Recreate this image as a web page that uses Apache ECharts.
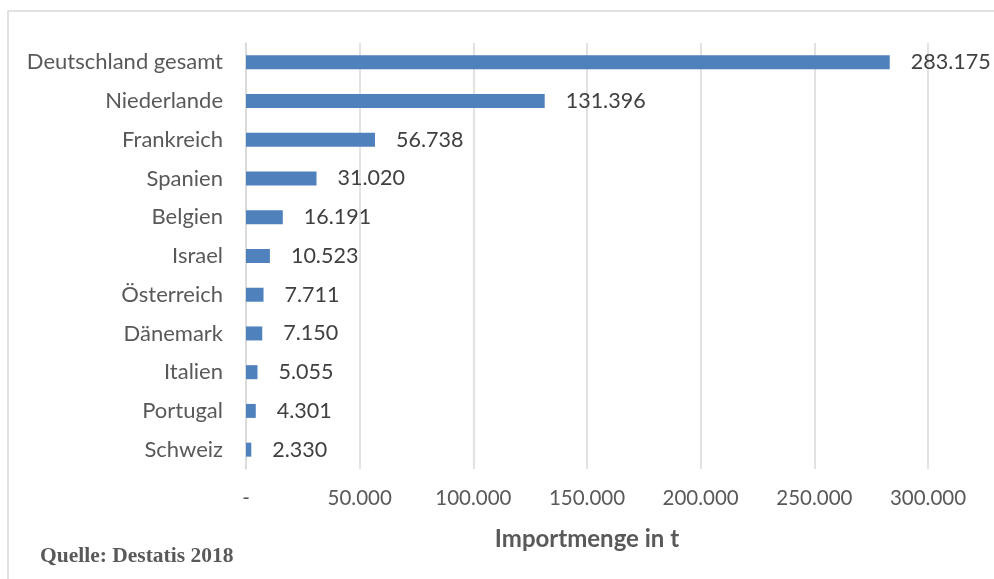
<!DOCTYPE html>
<html><head><meta charset="utf-8">
<script src="https://cdn.jsdelivr.net/npm/echarts@6/dist/echarts.min.js"></script>
<style>html,body{margin:0;padding:0;background:#fff}#c{width:994px;height:579px}</style>
</head><body><div id="c"></div>
<script>
const categories = ["Deutschland gesamt","Niederlande","Frankreich","Spanien","Belgien","Israel","Österreich","Dänemark","Italien","Portugal","Schweiz"];
const values = [283175,131396,56738,31020,16191,10523,7711,7150,5055,4301,2330];
const xTicks = [0,50000,100000,150000,200000,250000,300000];
const axisTitle = "Importmenge in t";
const sourceNote = "Quelle: Destatis 2018";

function fmt(v){ if(v===0) return "-"; return v.toString().replace(/\B(?=(\d{3})+(?!\d))/g,"."); }

const chart = echarts.init(document.getElementById('c'));
chart.setOption({
  animation:false,
  grid:{left:246,right:66,top:43,bottom:110,containLabel:false},
  xAxis:{type:'value',min:xTicks[0],max:xTicks[xTicks.length-1],interval:xTicks[1]-xTicks[0],
    axisLine:{show:false},axisTick:{show:false},
    splitLine:{lineStyle:{color:'#d9d9d9',width:1.5}},
    axisLabel:{formatter:fmt,color:'#595959',fontFamily:'Lato, Open Sans, sans-serif',fontSize:20.5,margin:19},
    name:axisTitle,nameLocation:'middle',nameGap:58,
    nameTextStyle:{color:'#595959',fontFamily:'Lato, Open Sans, sans-serif',fontSize:24,fontWeight:'bold'}
  },
  yAxis:{type:'category',data:categories,inverse:true,
    axisLine:{show:true,lineStyle:{color:'#d9d9d9',width:1.5}},axisTick:{show:false},
    axisLabel:{color:'#595959',fontFamily:'Lato, Open Sans, sans-serif',fontSize:22,margin:23}
  },
  series:[{type:'bar',data:values,barWidth:14,
    itemStyle:{color:'#4f81bd'},
    label:{show:true,position:'right',distance:21,formatter:p=>fmt(p.value),
      color:'#404040',fontFamily:'Lato, Open Sans, sans-serif',fontSize:21.5}
  }],
  graphic:[
    {type:'polyline',shape:{points:[[8,600],[8,11],[994,11]]},style:{stroke:'#d9d9d9',lineWidth:1.5,fill:null}},
    {type:'text',left:40,top:545,style:{text:sourceNote,fill:'#595959',font:'bold 21.5px "Liberation Serif", serif'}}
  ]
});
</script></body></html>
